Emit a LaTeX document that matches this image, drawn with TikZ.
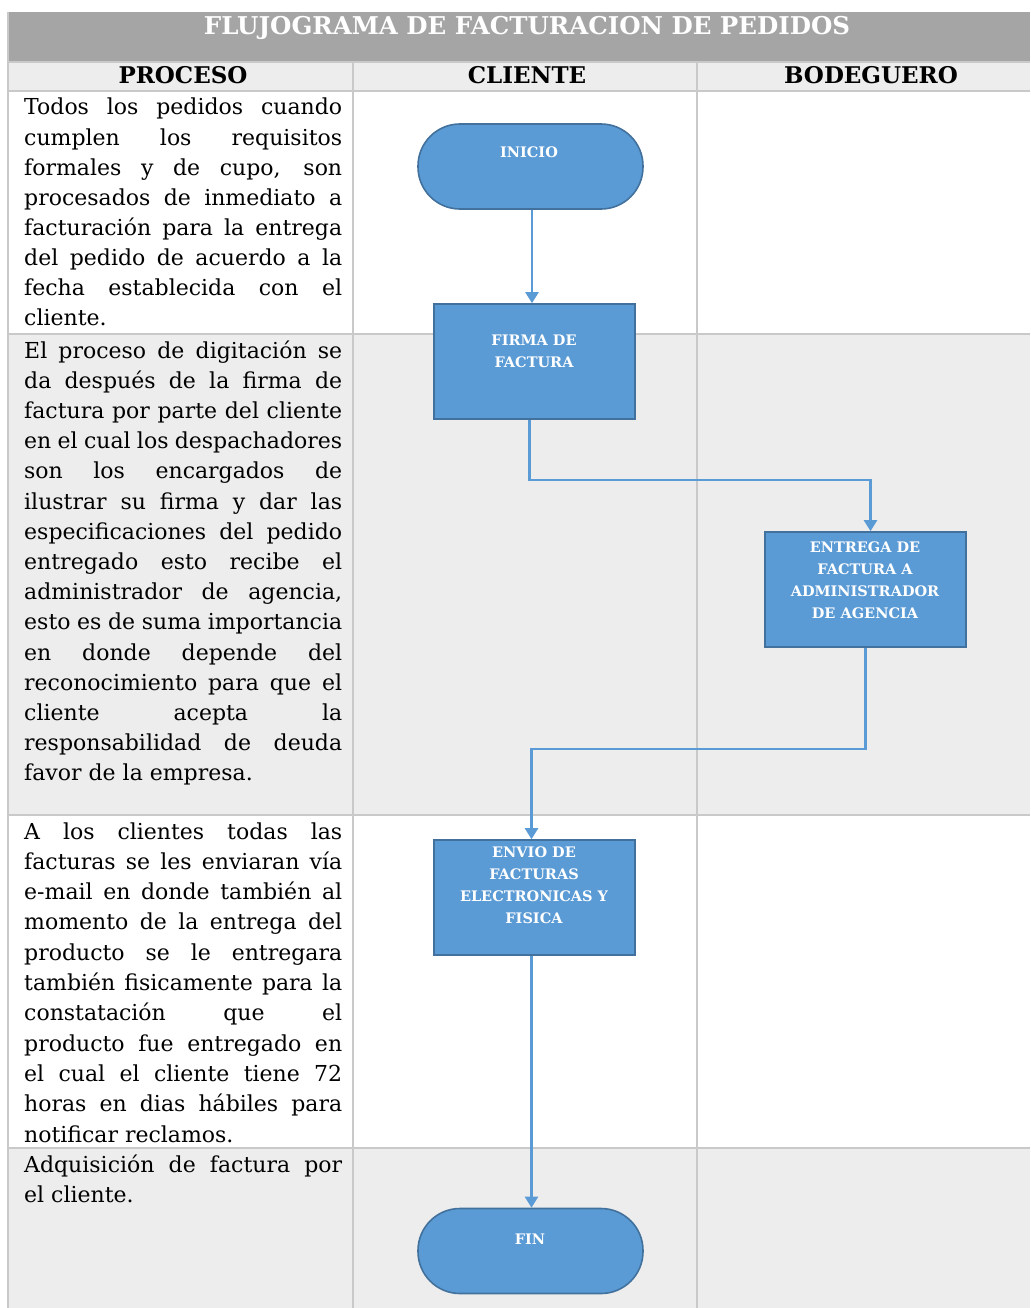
\documentclass[tikz,border=0pt]{standalone}
\usepackage{fontspec}
\setmainfont{DejaVu Serif}
\usetikzlibrary{arrows.meta}

\definecolor{titlegray}{HTML}{A5A5A5}
\definecolor{rowgray}{HTML}{EDEDED}
\definecolor{gridgray}{HTML}{C9C9C9}
\definecolor{shapeblue}{HTML}{5B9BD5}
\definecolor{shapeedge}{HTML}{41719C}
\definecolor{linkblue}{HTML}{5B9BD5}

\begin{document}
\begin{tikzpicture}[x=1pt,y=-1pt,
  stadium/.style={draw=shapeedge, line width=1.6pt, fill=shapeblue,
    rounded corners=42pt, minimum width=225pt, minimum height=85pt, inner sep=0},
  procbox/.style={draw=shapeedge, line width=1.6pt, fill=shapeblue,
    minimum width=201pt, minimum height=115pt, inner sep=0},
  boxlabel/.style={text=white, align=center, inner sep=0,
    font=\bfseries\fontsize{14.5}{22}\selectfont},
  conn/.style={draw=linkblue, line width=2.3pt,
    -{Triangle[width=13pt,length=11pt]}},
  gridline/.style={draw=gridgray, line width=1.8pt},
  bodytext/.style={anchor=base west, inner sep=0,
    font=\fontsize{22}{30}\selectfont},
  headtext/.style={anchor=base, inner sep=0,
    font=\bfseries\fontsize{23}{27}\selectfont},
]
\useasboundingbox (0,0) rectangle (1030,1308);
\fill[white] (0,0) rectangle (1030,1308);

% table background
\fill[titlegray] (8,12) rectangle (1030,62);
\fill[rowgray] (8,62) rectangle (1030,91);
\fill[rowgray] (8,334) rectangle (1030,815);
\fill[rowgray] (8,1148) rectangle (1030,1308);

% table rules
\foreach \yy in {62,91,334,815,1148}
  \draw[gridline] (8,\yy) -- (1030,\yy);
\draw[gridline] (8,12) -- (8,1308);
\draw[gridline] (353,62) -- (353,1308);
\draw[gridline] (697,62) -- (697,1308);

% title and column headers
\node[anchor=base, inner sep=0, text=white,
  font=\bfseries\fontsize{24.5}{28}\selectfont] (title) at (527,35)
  {FLUJOGRAMA DE FACTURACION DE PEDIDOS};
\node[headtext] (hproc) at (183,83.5) {PROCESO};
\node[headtext] (hcli) at (527,83.5) {CLIENTE};
\node[headtext] (hbod) at (871,83.5) {BODEGUERO};

% process descriptions (justified lines)
\foreach \ln [count=\k] in {Todos los pedidos cuando, cumplen los requisitos,
    {formales y de cupo, son}, procesados de inmediato a,
    facturación para la entrega, del pedido de acuerdo a la,
    fecha establecida con el}
  \node[bodytext] (pa\k) at (24,{115+30.1*(\k-1)}) {\makebox[318pt][s]{\ln}};
\node[bodytext] (pa8) at (24,325.7) {cliente.};

\foreach \ln [count=\k] in {El proceso de digitación se, da después de la firma de,
    factura por parte del cliente, en el cual los despachadores,
    son los encargados de, ilustrar su firma y dar las,
    especificaciones del pedido, entregado esto recibe el,
    {administrador de agencia,}, esto es de suma importancia,
    en donde depende del, reconocimiento para que el,
    cliente acepta la, responsabilidad de deuda}
  \node[bodytext] (pb\k) at (24,{358+30.2*(\k-1)}) {\makebox[318pt][s]{\ln}};
\node[bodytext] (pb15) at (24,780.8) {favor de la empresa.};

\foreach \ln [count=\k] in {A los clientes todas las, facturas se les enviaran vía,
    e-mail en donde también al, momento de la entrega del,
    producto se le entregara, también fisicamente para la,
    constatación que el, producto fue entregado en,
    el cual el cliente tiene 72, horas en dias hábiles para}
  \node[bodytext] (pc\k) at (24,{839+30.3*(\k-1)}) {\makebox[318pt][s]{\ln}};
\node[bodytext] (pc11) at (24,1142) {notificar reclamos.};

\node[bodytext] (pd1) at (24,1172) {\makebox[318pt][s]{Adquisición de factura por}};
\node[bodytext] (pd2) at (24,1202) {el cliente.};

% flowchart shapes
\node[stadium] (inicio) at (530.5,166.5) {};
\node[procbox] (firma) at (534.5,361.5) {};
\node[procbox] (entrega) at (865.5,589.5) {};
\node[procbox] (envio) at (534.5,897.5) {};
\node[stadium] (fin) at (530.5,1251) {};

\node[boxlabel] (inicio-t) at (529,152) {INICIO};
\node[boxlabel] (firma-t) at (534,351.5) {FIRMA DE\\FACTURA};
\node[boxlabel] (entrega-t) at (865,580.5) {ENTREGA DE\\FACTURA A\\ADMINISTRADOR\\DE AGENCIA};
\node[boxlabel] (envio-t) at (534,885.5) {ENVIO DE\\FACTURAS\\ELECTRONICAS Y\\FISICA};
\node[boxlabel] (fin-t) at (530,1239) {FIN};

% connectors
\draw[conn] ([xshift=1.5pt]inicio.south) -- ([xshift=1.5pt]inicio.south |- firma.north);
\draw[conn] ([xshift=-5pt]firma.south) -- ++(0,60) -| ([xshift=5pt]entrega.north);
\draw[conn] (entrega.south) -- ++(0,101) -| ([xshift=-3pt]envio.north);
\draw[conn] ([xshift=-3pt]envio.south) -- ([xshift=-3pt]envio.south |- fin.north);
\end{tikzpicture}
\end{document}
